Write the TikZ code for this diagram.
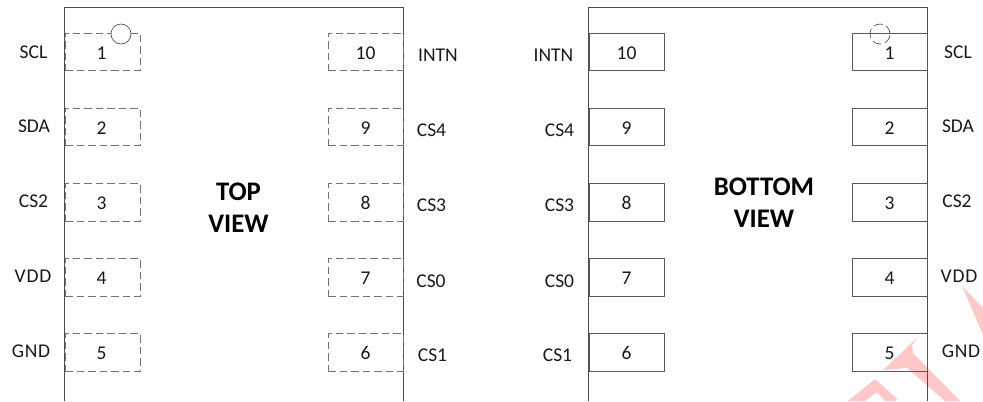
\documentclass[tikz,border=0pt]{standalone}
\usepackage{fontspec}
\setmainfont{Carlito}
\definecolor{wm}{RGB}{255,200,200}
\newcommand{\widelab}[1]{{\addfontfeature{LetterSpace=4}#1}}
\tikzset{
  x=1bp,y=-1bp,
  chip/.style={draw=black!70,line width=0.9bp},
  pinbase/.style={minimum width=75bp,minimum height=37.5bp,inner sep=0pt,text height=14.4bp,text depth=0bp,font=\fontsize{19.5bp}{23bp}\selectfont,text=black!90},
  pinsolid/.style={pinbase,draw=black!65,line width=0.9bp},
  pindash/.style={pinbase,draw=black!55,line width=0.9bp,dash pattern=on 7.5bp off 4bp},
  lab/.style={font=\fontsize{19.5bp}{23bp}\selectfont,inner sep=0pt,text=black!90},
  viewlab/.style={font=\fontsize{26.8bp}{32bp}\selectfont\bfseries,align=center,inner sep=0pt,text=black}
}
\begin{document}
\begin{tikzpicture}
\useasboundingbox (0,0) rectangle (983,401);
\fill[white] (0,0) rectangle (983,401);
% watermark
\fill[wm] (962,286) -- (983,308) -- (983,335) -- cycle;
\fill[wm] (883,370) -- (918,337) -- (912,345) -- (913,353) -- (960,401) -- (945,401) -- (907,368) -- cycle;
\fill[wm] (848,401) -- (875,379) -- (897,399) -- (895,401) -- (885,401) -- (877,392) -- (865,401) -- cycle;
% chips
\coordinate (tl) at (64.5,7.5);
\coordinate (tr) at (403.5,7.5);
\coordinate (bl) at (64.5,401);
\coordinate (br) at (403.5,401);
\coordinate (ptl) at (588.5,7.5);
\coordinate (ptr) at (927.5,7.5);
\coordinate (pbl) at (588.5,401);
\coordinate (pbr) at (927.5,401);
\draw[chip] (bl) -- (tl) -- (tr) -- (br);
\draw[chip] (pbl) -- (ptl) -- (ptr) -- (pbr);
% top view pins
\node[pindash] (a1) at (102.5,52) {\hspace{-2bp}1};
\node[pindash] (a2) at (102.5,127) {\hspace{-2bp}2};
\node[pindash] (a3) at (102.5,202.5) {\hspace{-2bp}3};
\node[pindash] (a4) at (102.5,277.5) {\hspace{-2bp}4};
\node[pindash] (a5) at (102.5,352.5) {\hspace{-2bp}5};
\node[pindash] (a10) at (365.5,52) {10};
\node[pindash] (a9) at (365.5,127) {9};
\node[pindash] (a8) at (365.5,202.5) {8};
\node[pindash] (a7) at (365.5,277.5) {7};
\node[pindash] (a6) at (365.5,352.5) {6};
% bottom view pins
\node[pinsolid] (b10) at (626.5,52) {10};
\node[pinsolid] (b9) at (626.5,127) {9};
\node[pinsolid] (b8) at (626.5,202.5) {8};
\node[pinsolid] (b7) at (626.5,277.5) {7};
\node[pinsolid] (b6) at (626.5,352.5) {6};
\node[pinsolid] (b1) at (889.5,52) {1};
\node[pinsolid] (b2) at (889.5,127) {2};
\node[pinsolid] (b3) at (889.5,202.5) {3};
\node[pinsolid] (b4) at (889.5,277.5) {4};
\node[pinsolid] (b5) at (889.5,352.5) {5};
% pin-1 marks
\node[draw=black!75,fill=white,circle,minimum size=20bp,inner sep=0pt,line width=0.6bp] (m1) at (121,34) {};
\node[draw=black!75,circle,minimum size=20bp,inner sep=0pt,line width=0.6bp,dash pattern=on 9bp off 4bp] (m2) at (880,34) {};
% labels
\node[lab] (l1) at (33.5,52) {SCL};
\node[lab] (l2) at (34,126) {SDA};
\node[lab] (l3) at (33.5,201.5) {CS2};
\node[lab] (l4) at (33,276.5) {\widelab{VDD}};
\node[lab] (l5) at (31,351.5) {\widelab{GND}};
\node[lab] (l10) at (438,55) {INTN};
\node[lab] (l9) at (431.5,130) {CS4};
\node[lab] (l8) at (431.5,205) {CS3};
\node[lab] (l7) at (431,281) {CS0};
\node[lab] (l6) at (432.5,355.5) {CS1};
\node[lab] (r10) at (553.5,55) {INTN};
\node[lab] (r9) at (559.5,130) {CS4};
\node[lab] (r8) at (559.5,205) {CS3};
\node[lab] (r7) at (559.5,281) {CS0};
\node[lab] (r6) at (557.5,355.5) {CS1};
\node[lab] (r1) at (958,52) {SCL};
\node[lab] (r2) at (958,126) {SDA};
\node[lab] (r3) at (957,201.5) {CS2};
\node[lab] (r4) at (959,276.5) {\widelab{VDD}};
\node[lab] (r5) at (961,351.5) {\widelab{GND}};
\node[viewlab] (tv) at (238.5,207.5) {TOP\\VIEW};
\node[viewlab] (bv) at (764,203) {BOTTOM\\VIEW};
\end{tikzpicture}
\end{document}
